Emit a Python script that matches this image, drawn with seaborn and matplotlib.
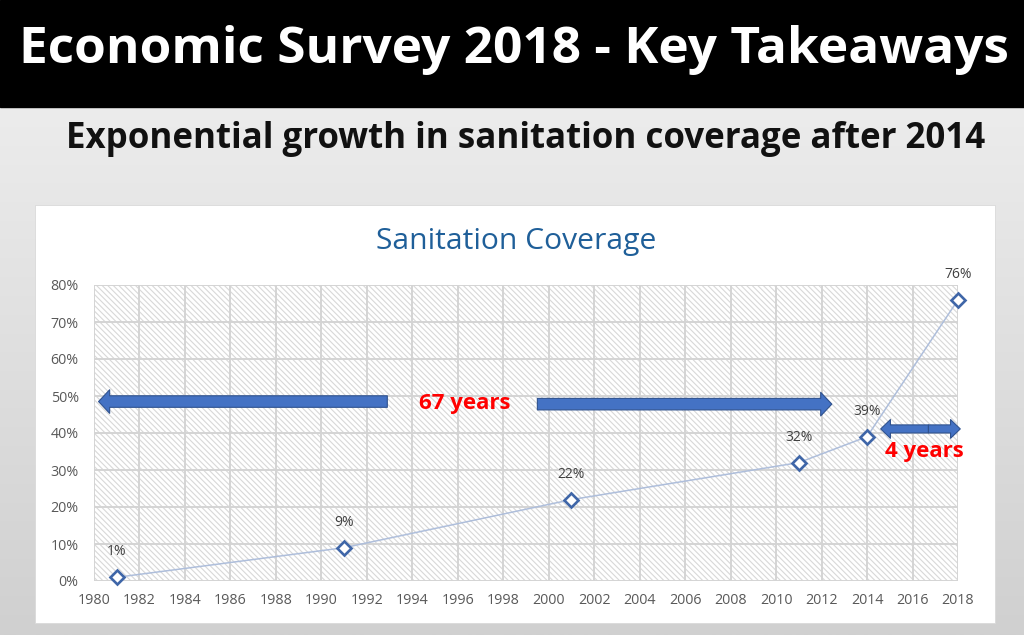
import numpy as np
import matplotlib
matplotlib.use("Agg")
import matplotlib.pyplot as plt
import seaborn as sns
from matplotlib.patches import Rectangle, FancyArrowPatch

# ---------------- data ----------------
years = [1981, 1991, 2001, 2011, 2014, 2018]
coverage = [1, 9, 22, 32, 39, 76]
labels = ["1%", "9%", "22%", "32%", "39%", "76%"]
x_ticks = list(range(1980, 2019, 2))
y_ticks = [0, 10, 20, 30, 40, 50, 60, 70, 80]
y_tick_labels = ["0%", "10%", "20%", "30%", "40%", "50%", "60%", "70%", "80%"]

main_title = "Economic Survey 2018 - Key Takeaways"
subtitle = "Exponential growth in sanitation coverage after 2014"
chart_title = "Sanitation Coverage"
span_long = "67 years"
span_short = "4 years"

sns.set_theme(style="white")
plt.rcParams["font.family"] = ["Lato", "DejaVu Sans"]
plt.rcParams["hatch.linewidth"] = 0.8
plt.rcParams["hatch.color"] = "#d8d8d8"

W, H = 1024, 635
fig = plt.figure(figsize=(W / 100, H / 100), dpi=100)

# ---------------- background ----------------
bg = fig.add_axes([0, 0, 1, 1])
bg.set_xlim(0, W)
bg.set_ylim(H, 0)
bg.axis("off")
grad = np.linspace(0, 1, 256).reshape(-1, 1)
bg.imshow(grad, extent=[0, W, H, 107], cmap=matplotlib.colors.LinearSegmentedColormap.from_list(
    "g", ["#ececec", "#d0d0d0"]), aspect="auto", zorder=0)
bg.add_patch(Rectangle((0, 0), W, 107, color="black", zorder=1))
bg.add_patch(Rectangle((35, 205), 960, 418, facecolor="white", edgecolor="#d9d9d9", lw=0.6, zorder=1))
bg.set_xlim(0, W)
bg.set_ylim(H, 0)

t1 = bg.text(514, 50, main_title, color="white", fontsize=36, fontweight="bold",
             family=["Open Sans", "DejaVu Sans"], ha="center", va="center", zorder=2)
t2 = bg.text(526, 139, subtitle, color="#111111", fontsize=22, fontweight="bold",
             family=["Open Sans", "DejaVu Sans"], ha="center", va="center", zorder=2)
t3 = bg.text(516, 242, chart_title, color="#1f5f99", fontsize=18,
             family=["Open Sans", "DejaVu Sans"], ha="center", va="center", zorder=2)

fig.canvas.draw()
r = fig.canvas.get_renderer()
for t, wpx in [(t1, 992), (t2, 917), (t3, 280)]:
    bb = t.get_window_extent(r)
    t.set_fontsize(t.get_fontsize() * wpx / bb.width)

# ---------------- chart ----------------
ax = fig.add_axes([94 / W, 1 - 581 / H, (958 - 94) / W, (581 - 285) / H])
ax.set_facecolor("white")
ax.add_patch(Rectangle((0, 0), 1, 1, transform=ax.transAxes, facecolor="white",
                       edgecolor="#d8d8d8", hatch="\\\\\\\\\\\\", lw=0, zorder=0.1))
ax.set_axisbelow(True)
ax.grid(True, color="#d4d4d4", lw=1.4)

sns.lineplot(x=years, y=coverage, ax=ax, color="#aebedb", lw=1.1, marker="D",
             markersize=7.5, markerfacecolor="white", markeredgecolor="#3f66a8",
             markeredgewidth=1.9, zorder=3, clip_on=False)

for xv, yv, lab in zip(years, coverage, labels):
    ax.annotate(lab, (xv, yv), xytext=(0, 13), textcoords="offset points",
                ha="center", va="bottom", fontsize=10, color="#404040",
                family=["Open Sans", "DejaVu Sans"], zorder=4, annotation_clip=False)

ax.set_xlim(1980, 2018)
ax.set_ylim(0, 80)
ax.set_xticks(x_ticks)
ax.set_yticks(y_ticks)
ax.set_yticklabels(y_tick_labels)
ax.tick_params(axis="both", length=0, labelsize=10.3, labelcolor="#595959")
ax.tick_params(axis="y", pad=11)
ax.tick_params(axis="x", pad=9)
for lab in ax.get_xticklabels() + ax.get_yticklabels():
    lab.set_family(["Open Sans", "DejaVu Sans"])
for s in ax.spines.values():
    s.set_visible(False)


def arrow(x0, x1, y, tail, hw, hl):
    a = FancyArrowPatch((x0, y), (x1, y),
                        arrowstyle=f"simple,head_length={hl},head_width={hw},tail_width={tail}",
                        mutation_scale=1, facecolor="#4472c4", edgecolor="#2f528f",
                        lw=0.8, zorder=5, clip_on=False, shrinkA=0, shrinkB=0)
    ax.add_patch(a)


arrow(1992.9, 1980.2, 48.5, 8.3, 17, 8)
arrow(1999.5, 2012.45, 47.8, 8.3, 17, 8)
arrow(2016.7, 2014.6, 41.1, 5.8, 13.5, 7)
arrow(2016.7, 2018.1, 41.1, 5.8, 13.5, 7)

ax.text(1996.3, 48.1, span_long, color="#ff0000", fontsize=16, fontweight="bold",
        ha="center", va="center", zorder=6, family=["Open Sans", "DejaVu Sans"])
ax.text(2016.5, 35.1, span_short, color="#ff0000", fontsize=16, fontweight="bold",
        ha="center", va="center", zorder=6, family=["Open Sans", "DejaVu Sans"], clip_on=False)

fig.savefig("out.png", dpi=100)
